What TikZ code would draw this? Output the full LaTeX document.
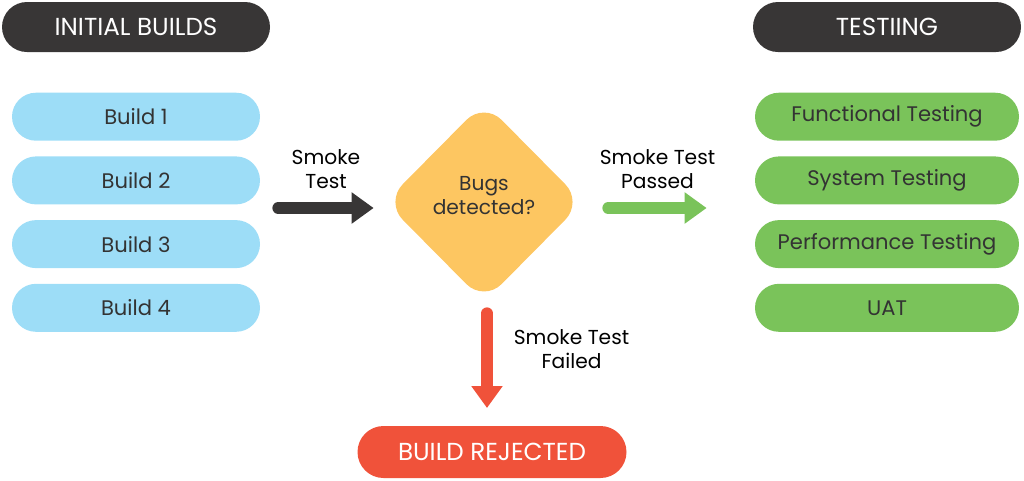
\documentclass[tikz,border=0pt]{standalone}
\usepackage{fontspec}
\setmainfont{Poppins}
\usepackage{tikz}
\usetikzlibrary{positioning, arrows.meta, shapes.geometric}
\definecolor{headgray}{HTML}{383636}
\definecolor{buildblue}{HTML}{9DDDF7}
\definecolor{testgreen}{HTML}{7AC35A}
\definecolor{bugorange}{HTML}{FDC661}
\definecolor{failred}{HTML}{F0523A}
\definecolor{txtgray}{HTML}{333333}
\tikzset{
node distance=0.3cm, % gap between the stacked boxes
header/.style={rectangle, rounded corners=0.5cm, fill=headgray, text=white, minimum width=5.36cm, minimum height=1cm, font=\fontsize{14}{16}\selectfont}, % dark title pills
build/.style={rectangle, rounded corners=0.48cm, fill=buildblue, text=txtgray, minimum width=4.96cm, minimum height=0.96cm, font=\fontsize{12}{14}\selectfont}, % left column
testbox/.style={build, fill=testgreen, minimum width=5.28cm}, % right column
bigarrow/.style={line width=0.24cm, line cap=round, -{Triangle[length=0.44cm, width=0.6cm]}}, % fat arrows
lbl/.style={align=center, text=black, font=\fontsize{11.5}{13.5}\selectfont}, % arrow labels
}
\begin{document}
\begin{tikzpicture}
            \useasboundingbox (0,0) rectangle (20.48,-9.6);
            \node[header] (init) at (2.72,-0.54) {INITIAL BUILDS};
            \node[header] (test) at (17.74,-0.54) {TESTIING};
            \node[build, below=0.8cm of init] (b1) {Build 1};
            \node[build, below=0.3cm of b1] (b2) {Build 2};
            \node[build, below=0.3cm of b2] (b3) {Build 3};
            \node[build, below=0.3cm of b3] (b4) {Build 4};
            \node[testbox, below=0.8cm of test] (t1) {Functional Testing};
            \node[testbox, below=0.3cm of t1] (t2) {System Testing};
            \node[testbox, below=0.3cm of t2] (t3) {Performance Testing};
            \node[testbox, below=0.3cm of t3] (t4) {UAT};
            \node[diamond, fill=bugorange, rounded corners=0.5cm, minimum width=3.96cm, minimum height=4cm, inner sep=0pt, align=center, text depth=0.26cm, text=txtgray, font=\fontsize{11.5}{13.5}\selectfont] (bug) at (9.68,-4.04) {Bugs\\detected?};
            \node[rectangle, rounded corners=0.52cm, fill=failred, text=white, minimum width=5.38cm, minimum height=1.04cm, font=\fontsize{14}{16}\selectfont] (rej) at (9.84,-9.04) {BUILD REJECTED};
            \coordinate (smk) at ([xshift=0.36cm]b2.east |- 0,-4.16);
            \coordinate (pas) at ([xshift=0.5cm]bug.east |- 0,-4.16);
            \draw[bigarrow, headgray] (smk) -- node[lbl, above=0.15cm] {Smoke\\Test} ([xshift=-0.22cm]bug.west |- smk);
            \draw[bigarrow, testgreen] (pas) -- node[lbl, above=0.15cm] {Smoke Test\\Passed} ([xshift=-0.96cm]t2.west |- pas);
            \draw[bigarrow, failred] ([xshift=0.06cm, yshift=-0.22cm]bug.south) -- node[lbl, right=0.3cm, pos=0.38] {Smoke Test\\Failed} ([xshift=0.06cm]bug.south |- 0,-8.16);
            \end{tikzpicture}
\end{document}
